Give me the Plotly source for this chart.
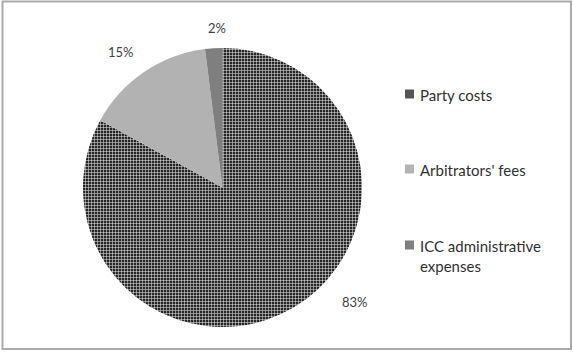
import plotly.graph_objects as go

# Data
categories = ["Party costs", "Arbitrators' fees", "ICC administrative expenses"]
legend_text = ["Party costs", "Arbitrators' fees", "ICC administrative<br>expenses"]
values = [83, 15, 2]
colors = ["#2a2a2a", "#b2b2b2", "#7f7f7f"]

W, H = 573, 354

def px(x):
    return x / W

def py(y):
    return 1 - y / H

# pie geometry (pixels)
cx, cy, r = 222.5, 187.5, 139.5

fig = go.Figure()
fig.add_trace(go.Pie(
    labels=categories,
    values=values,
    sort=False,
    direction="clockwise",
    rotation=0,
    textinfo="none",
    hoverinfo="label+percent",
    showlegend=False,
    marker=dict(
        colors=[colors[0], colors[1], colors[2]],
        line=dict(width=0),
        pattern=dict(
            shape=["+", "", ""],
            fgcolor=["#f2f2f2", colors[1], colors[2]],
            bgcolor=["#262626", colors[1], colors[2]],
            size=3,
            solidity=0.3,
            fillmode="replace",
        ),
    ),
    domain=dict(x=[px(cx - r), px(cx + r)], y=[py(cy + r), py(cy - r)]),
))

# percentage labels (layout positions)
label_pos = [(355, 302), (121, 52), (217, 28)]
total = sum(values)
annotations = []
for v, (lx, ly) in zip(values, label_pos):
    annotations.append(dict(
        x=px(lx), y=py(ly), xref="paper", yref="paper",
        text=f"{round(100 * v / total)}%", showarrow=False,
        font=dict(family="Lato, Open Sans, sans-serif", size=13, color="#404040"),
        xanchor="center", yanchor="middle",
    ))

# custom legend
legend_y = [94, 169, 245]
shapes = []
for i, (txt, ly) in enumerate(zip(legend_text, legend_y)):
    shapes.append(dict(
        type="rect", xref="paper", yref="paper",
        x0=px(405), x1=px(414), y0=py(ly + 4.5), y1=py(ly - 4.5),
        fillcolor=["#555555", colors[1], colors[2]][i], line=dict(width=0),
    ))
    annotations.append(dict(
        x=px(418), y=py(ly - 10), xref="paper", yref="paper",
        text=txt, showarrow=False, align="left",
        font=dict(family="Lato, Open Sans, sans-serif", size=15, color="#303030"),
        xanchor="left", yanchor="top",
    ))

# outer frame
shapes.append(dict(
    type="rect", xref="paper", yref="paper",
    x0=px(2.5), x1=px(571), y0=py(349), y1=py(1.5),
    line=dict(color="#ababab", width=2), fillcolor="rgba(0,0,0,0)",
))

fig.update_layout(
    width=W, height=H,
    margin=dict(l=0, r=0, t=0, b=0),
    paper_bgcolor="white",
    plot_bgcolor="white",
    annotations=annotations,
    shapes=shapes,
)

fig.write_html("out.html")
